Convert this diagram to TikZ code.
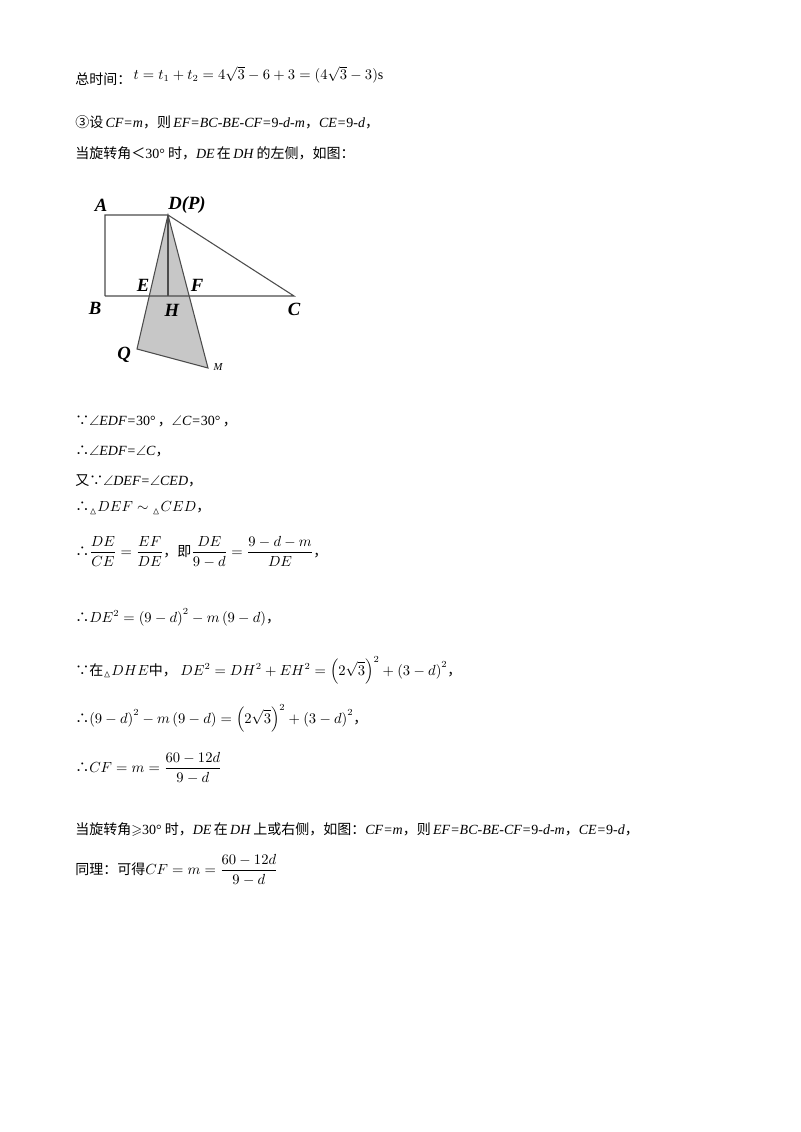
\documentclass[tikz,border=0pt]{standalone}
\usepackage{fontspec}
\usepackage{amsmath,amssymb}
\setmainfont{Liberation Serif}
\newfontfamily\zh{Noto Sans CJK SC}
\newcommand{\z}[1]{{\zh #1}}
\tikzset{txt/.style={anchor=west,inner sep=0pt,font=\fontsize{10.5}{12}\selectfont},
 lab/.style={font=\fontsize{14}{14}\selectfont\bfseries\itshape,inner sep=0pt},
 seg/.style={draw=black!70,line width=0.8pt}}
\begin{document}
\begin{tikzpicture}[x=0.75pt,y=-0.75pt]
\useasboundingbox (0,0) rectangle (800,1132);
\fill[white] (0,0) rectangle (800,1132);
% figure
\coordinate (A) at (105,215); \coordinate (D) at (168,215);
\coordinate (B) at (105,296); \coordinate (C) at (294,296);
\coordinate (H) at (168,296); \coordinate (E) at (149.5,296);
\coordinate (F) at (189,296); \coordinate (Q) at (137,349);
\coordinate (M) at (208,368);
\fill[black!22] (D) -- (Q) -- (M) -- cycle;
\draw[seg] (B) -- (A) -- (D) -- (C) -- (B);
\draw[seg] (D) -- (Q) -- (M) -- cycle;
\draw[seg] (D) -- (H);
\node[lab] (lA) at (101,205) {A};
\node[lab] (lD) at (187,205) {D(P)};
\node[lab] (lE) at (143,285) {E};
\node[lab] (lF) at (197,285) {F};
\node[lab] (lB) at (95,308) {B};
\node[lab] (lH) at (172,310) {H};
\node[lab] (lC) at (294,309) {C};
\node[lab] (lQ) at (124,355) {Q};
\node[font=\fontsize{8}{8}\selectfont\itshape,inner sep=0pt] (lM) at (218,367) {M};
% text
\node[txt] (t1) at (75,76) {\z{总时间：}\,\raisebox{4pt}{$t=t_1+t_2=4\sqrt{3}-6+3=(4\sqrt{3}-3)\mathrm{s}$}};
\node[txt] (t2) at (75,122) {\z{③设}\,\textit{CF=m}\z{，则}\,\textit{EF=BC-BE-CF=}9-\textit{d-m}\z{，}\textit{CE=}9-\textit{d}\z{，}};
\node[txt] (t3) at (75,153) {\z{当旋转角＜}30°\z{\ 时，}\textit{DE}\,\z{在}\,\textit{DH}\,\z{的左侧，如图：}};
\node[txt] (t4) at (75,421) {\z{∵}$\angle$\textit{EDF=}30°\,\z{，}$\angle$\textit{C=}30°\,\z{，}};
\node[txt] (t5) at (75,451) {\z{∴}$\angle$\textit{EDF=}$\angle$\textit{C}\z{，}};
\node[txt] (t6) at (75,481) {\z{又∵}$\angle$\textit{DEF=}$\angle$\textit{CED}\z{，}};
\node[txt] (t7) at (75,508) {\z{∴}$_\vartriangle DEF\sim{}_\vartriangle CED$\z{，}};
\node[txt] (t8) at (75,552) {\z{∴}$\dfrac{DE}{CE}=\dfrac{EF}{DE}$\z{，即}$\dfrac{DE}{9-d}=\dfrac{9-d-m}{DE}$\z{，}};
\node[txt] (t9) at (75,617) {\z{∴}$DE^2=\left(9-d\right)^2-m\left(9-d\right)$\z{，}};
\node[txt] (t10) at (75,670) {\z{∵在}$_\vartriangle DHE$\z{中，}\ $DE^2=DH^2+EH^2=\left(2\sqrt{3}\right)^2+\left(3-d\right)^2$\z{，}};
\node[txt] (t11) at (75,718) {\z{∴}$\left(9-d\right)^2-m\left(9-d\right)=\left(2\sqrt{3}\right)^2+\left(3-d\right)^2$\z{，}};
\node[txt] (t12) at (75,768) {\z{∴}$CF=m=\dfrac{60-12d}{9-d}$};
\node[txt] (t13) at (75,830) {\z{当旋转角}$\geqslant$30°\z{\ 时，}\textit{DE}\,\z{在}\,\textit{DH}\,\z{上或右侧，如图：}\textit{CF=m}\z{，则}\,\textit{EF=BC-BE-CF=}9-\textit{d-m}\z{，}\textit{CE=}9-\textit{d}\z{，}};
\node[txt] (t14) at (75,870) {\z{同理：可得}$CF=m=\dfrac{60-12d}{9-d}$};
\end{tikzpicture}
\end{document}
